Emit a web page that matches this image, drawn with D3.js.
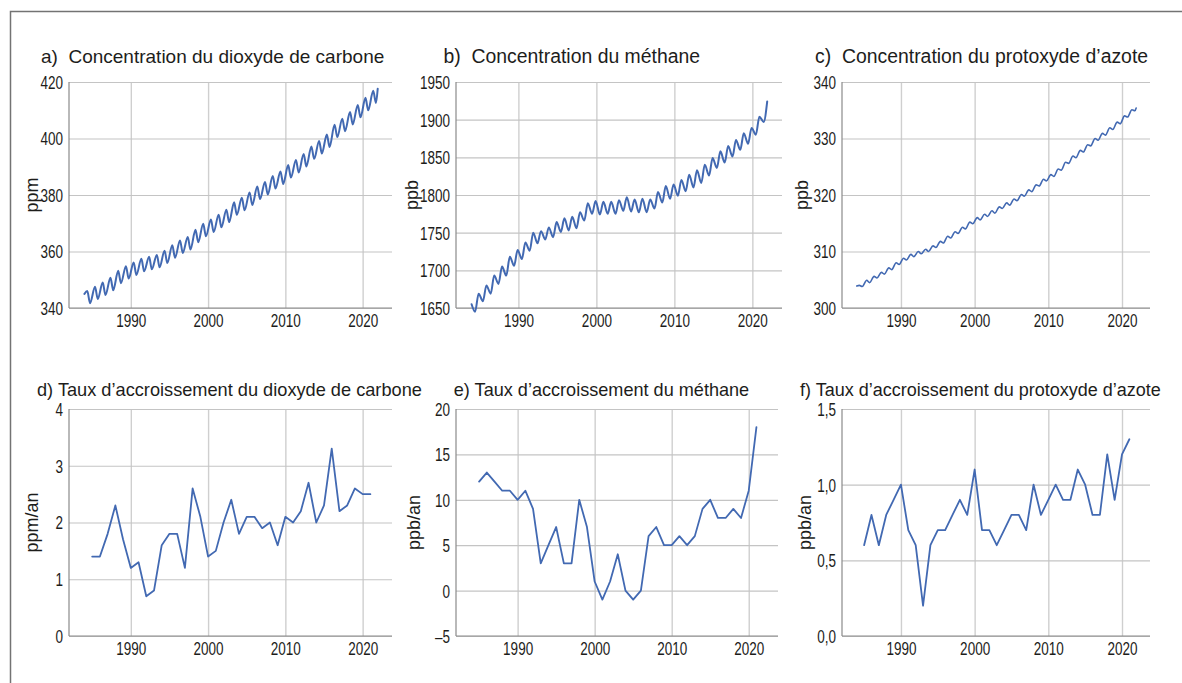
<!DOCTYPE html>
<html lang="fr">
<head>
<meta charset="utf-8">
<script src="https://cdn.jsdelivr.net/npm/d3@7"></script>
<style>
  html, body { margin: 0; padding: 0; background: #fff; }
  svg { display: block; }
  .title { font-family: "Liberation Sans", Arial, sans-serif; fill: #1d1d1b; white-space: pre; }
  .unit { font-family: "Liberation Sans", Arial, sans-serif; font-size: 18px; fill: #1d1d1b; }
  .tick-label { font-family: "Liberation Sans", Arial, sans-serif; font-size: 18.5px; fill: #1d1d1b; }
</style>
</head>
<body>
<svg id="chart" width="1182" height="683"></svg>
<script>
// ---- Data -----------------------------------------------------------------

// Years covered by the monthly concentration records (one entry per year)
const concYears = d3.range(1984, 2022);

// CO2 (ppm): seasonal maximum (around May) and minimum (around September)
const co2Max = [346.0, 347.5, 349.0, 350.7, 353.2, 354.8, 356.1, 357.4, 358.1, 358.8,
                360.3, 362.2, 363.9, 365.1, 367.7, 369.8, 371.3, 373.0, 374.8, 377.4,
                379.0, 380.9, 383.0, 384.6, 386.7, 388.3, 390.6, 392.4, 394.5, 397.2,
                399.1, 401.4, 404.9, 407.0, 409.4, 411.9, 414.4, 416.9];
const co2Min = [341.7, 343.2, 344.6, 346.3, 348.8, 350.4, 351.7, 353.0, 353.7, 354.4,
                355.9, 357.8, 359.5, 360.7, 363.3, 365.4, 366.9, 368.6, 370.4, 373.0,
                374.6, 376.5, 378.6, 380.2, 382.3, 383.9, 386.2, 388.0, 390.1, 392.8,
                394.7, 397.0, 400.5, 402.6, 405.0, 407.5, 410.0, 412.6];
const co2First = 345.0, co2Last = 417.6;           // January 1984, December 2021
const co2MaxMonth = 0.37, co2MinMonth = 0.72;      // fraction of the year

// CH4 (ppb): seasonal minimum (early summer) and maximum (late in the year)
const ch4Min = [1645, 1659, 1669, 1682, 1693, 1706, 1715, 1726, 1736, 1741,
                1744, 1751, 1753, 1756, 1766, 1775, 1774, 1775, 1775, 1779,
                1778, 1777, 1777, 1782, 1790, 1795, 1799, 1805, 1810, 1816,
                1826, 1836, 1843, 1851, 1860, 1868, 1880, 1897];
const ch4Max = [1669, 1680, 1693, 1705, 1718, 1727, 1737, 1750, 1752, 1757,
                1764, 1769, 1771, 1777, 1789, 1792, 1791, 1791, 1793, 1797,
                1794, 1795, 1794, 1804, 1812, 1814, 1820, 1827, 1833, 1840,
                1849, 1858, 1865, 1873, 1882, 1889, 1904, 1924];
const ch4First = 1655;
const ch4MinMonth = 0.45, ch4MaxMonth = 0.9;

// N2O (ppb): small seasonal high and low
const n2oHigh = [304.0, 304.9, 305.6, 306.3, 307.1, 308.0, 308.8, 309.5, 310.0, 310.4,
                 311.0, 311.8, 312.7, 313.5, 314.3, 315.2, 316.0, 316.6, 317.2, 317.9,
                 318.6, 319.3, 320.1, 320.9, 321.8, 322.8, 323.6, 324.6, 325.8, 326.9,
                 327.9, 328.9, 330.0, 330.9, 331.9, 332.9, 334.0, 335.1];
const n2oLow  = [303.8, 304.5, 305.3, 306.0, 306.8, 307.7, 308.5, 309.1, 309.6, 310.0,
                 310.7, 311.5, 312.4, 313.2, 314.0, 314.9, 315.6, 316.2, 316.8, 317.6,
                 318.2, 319.0, 319.8, 320.6, 321.6, 322.5, 323.3, 324.4, 325.6, 326.6,
                 327.6, 328.7, 329.7, 330.6, 331.6, 332.6, 333.8, 334.9];
const n2oFirst = 303.9, n2oLast = 335.4;
const n2oHighMonth = 0.35, n2oLowMonth = 0.75;

// Annual growth rates
const rateYears = d3.range(1985, 2022);
const co2Rate = [1.4, 1.4, 1.8, 2.3, 1.7, 1.2, 1.3, 0.7, 0.8, 1.6,
                 1.8, 1.8, 1.2, 2.6, 2.1, 1.4, 1.5, 2.0, 2.4, 1.8,
                 2.1, 2.1, 1.9, 2.0, 1.6, 2.1, 2.0, 2.2, 2.7, 2.0,
                 2.3, 3.3, 2.2, 2.3, 2.6, 2.5, 2.5];
const ch4Rate = [12, 13, 12, 11, 11, 10, 11, 9, 3, 5,
                 7, 3, 3, 10, 7, 1, -1, 1, 4, 0,
                 -1, 0, 6, 7, 5, 5, 6, 5, 6, 9,
                 10, 8, 8, 9, 8, 11, 18];
const n2oRate = [0.6, 0.8, 0.6, 0.8, 0.9, 1.0, 0.7, 0.6, 0.2, 0.6,
                 0.7, 0.7, 0.8, 0.9, 0.8, 1.1, 0.7, 0.7, 0.6, 0.7,
                 0.8, 0.8, 0.7, 1.0, 0.8, 0.9, 1.0, 0.9, 0.9, 1.1,
                 1.0, 0.8, 0.8, 1.2, 0.9, 1.2, 1.3];

// Axis ticks
const yearTicks = [1990, 2000, 2010, 2020];
const co2Ticks = [340, 360, 380, 400, 420];
const ch4Ticks = [1650, 1700, 1750, 1800, 1850, 1900, 1950];
const n2oTicks = [300, 310, 320, 330, 340];
const co2RateTicks = [0, 1, 2, 3, 4];
const ch4RateTicks = [-5, 0, 5, 10, 15, 20];
const n2oRateTicks = [0, 0.5, 1, 1.5];

// ---- Build series -----------------------------------------------------------

function seasonal(first, last, a, aPhase, b, bPhase, firstT, lastT) {
  const pts = [{ t: firstT, v: first }];
  concYears.forEach((y, i) => {
    pts.push({ t: y + aPhase, v: a[i] });
    pts.push({ t: y + bPhase, v: b[i] });
  });
  if (last != null) pts.push({ t: lastT, v: last });
  return pts;
}

const co2Series = seasonal(co2First, co2Last, co2Max, co2MaxMonth, co2Min, co2MinMonth, 1984.0, 2021.95);
const ch4Series = seasonal(ch4First, null, ch4Min, ch4MinMonth, ch4Max, ch4MaxMonth, 1984.0, null);
const n2oSeries = seasonal(n2oFirst, n2oLast, n2oHigh, n2oHighMonth, n2oLow, n2oLowMonth, 1984.0, 2021.92)
  .filter(p => p.t <= 2021.92);
const rateSeries = arr => rateYears.map((y, i) => ({ t: y, v: arr[i] }));

const comma = d3.format(".1f");
const dashMinus = v => (v < 0 ? "\u2013" + Math.abs(v) : String(v));

// ---- Layout -----------------------------------------------------------------

const panels = [
  { title: "a)  Concentration du dioxyde de carbone", tx: 41, ty: 63, tsize: 19,
    unit: "ppm", ux: 32, box: [69, 392, 82, 308], y: [340, 420], ticks: co2Ticks,
    fmt: String, data: co2Series, curve: d3.curveMonotoneX, width: 2 },
  { title: "b)  Concentration du méthane", tx: 443.5, ty: 63, tsize: 19.4,
    unit: "ppb", ux: 412, box: [456, 782, 82, 308], y: [1650, 1950], ticks: ch4Ticks,
    fmt: String, data: ch4Series, curve: d3.curveMonotoneX, width: 2 },
  { title: "c)  Concentration du protoxyde d\u2019azote", tx: 815, ty: 63, tsize: 19.4,
    unit: "ppb", ux: 802, box: [842, 1150, 82, 308], y: [300, 340], ticks: n2oTicks,
    fmt: String, data: n2oSeries, curve: d3.curveMonotoneX, width: 1.6 },
  { title: "d) Taux d\u2019accroissement du dioxyde de carbone", tx: 37, ty: 396, tsize: 18.2,
    unit: "ppm/an", ux: 32, box: [69, 392, 409, 636], y: [0, 4], ticks: co2RateTicks,
    fmt: String, data: rateSeries(co2Rate), curve: d3.curveLinear, width: 1.8 },
  { title: "e) Taux d\u2019accroissement du méthane", tx: 453.8, ty: 396, tsize: 18.1,
    unit: "ppb/an", ux: 413.5, box: [456, 778, 409, 636], y: [-5, 20], ticks: ch4RateTicks,
    fmt: dashMinus, data: rateSeries(ch4Rate), curve: d3.curveLinear, width: 1.8 },
  { title: "f) Taux d\u2019accroissement du protoxyde d\u2019azote", tx: 800, ty: 396, tsize: 18,
    unit: "ppb/an", ux: 805, box: [842, 1150, 409, 636], y: [0, 1.5], ticks: n2oRateTicks,
    fmt: v => comma(v).replace(".", ","), data: rateSeries(n2oRate), curve: d3.curveLinear, width: 1.8 }
];

const yearDomain = [1982, 2023.8];
const narrow = 0.73;          // horizontal squeeze for the condensed tick numerals
const yPad = 6;

// ---- Drawing ----------------------------------------------------------------

const svg = d3.select("#chart");

// Outer frame (top and left edges)
svg.append("path")
  .attr("d", "M10.5,683 V11.5 H1182")
  .attr("fill", "none")
  .attr("stroke", "#737373")
  .attr("stroke-width", 1.5);

panels.forEach(p => {
  const [x0, x1, y0, y1] = p.box;
  const x = d3.scaleLinear().domain(yearDomain).range([x0, x1]);
  const y = d3.scaleLinear().domain(p.y).range([y1, y0]);
  const g = svg.append("g");

  // Gridlines
  g.append("g")
    .attr("transform", `translate(0,${y1})`)
    .call(d3.axisBottom(x).tickValues(yearTicks).tickSize(-(y1 - y0)).tickFormat(""))
    .call(a => a.select(".domain").remove())
    .call(a => a.selectAll("line").attr("stroke", "#cfcfcf").attr("stroke-width", 1.4));
  g.append("g")
    .attr("transform", `translate(${x0},0)`)
    .call(d3.axisLeft(y).tickValues(p.ticks).tickSize(-(x1 - x0)).tickFormat(""))
    .call(a => a.select(".domain").remove())
    .call(a => a.selectAll("line").attr("stroke", "#c4c4c4").attr("stroke-width", 1.2));

  // Axis lines
  g.append("line").attr("x1", x0).attr("x2", x0).attr("y1", y0).attr("y2", y1)
    .attr("stroke", "#8a8a8a").attr("stroke-width", 1.2);
  g.append("line").attr("x1", x0).attr("x2", x1).attr("y1", y1).attr("y2", y1)
    .attr("stroke", "#8a8a8a").attr("stroke-width", 1.2);

  // Tick labels
  const xAxis = g.append("g")
    .attr("transform", `translate(0,${y1})`)
    .call(d3.axisBottom(x).tickValues(yearTicks).tickSize(0).tickPadding(0).tickFormat(d3.format("d")));
  xAxis.select(".domain").remove();
  xAxis.attr("font-family", null).attr("font-size", null);
  xAxis.selectAll("text").attr("class", "tick-label")
    .attr("dy", null).attr("y", 19).attr("x", 0)
    .attr("transform", `scale(${narrow},1)`);

  const yAxis = g.append("g")
    .attr("transform", `translate(${x0},0)`)
    .call(d3.axisLeft(y).tickValues(p.ticks).tickSize(0).tickPadding(yPad).tickFormat(p.fmt));
  yAxis.select(".domain").remove();
  yAxis.attr("font-family", null).attr("font-size", null);
  yAxis.selectAll("text").attr("class", "tick-label")
    .attr("dy", "0.35em")
    .attr("x", -yPad / narrow)
    .attr("transform", `scale(${narrow},1)`);

  // Data line
  const line = d3.line().x(d => x(d.t)).y(d => y(d.v)).curve(p.curve);
  g.append("path")
    .datum(p.data)
    .attr("d", line)
    .attr("fill", "none")
    .attr("stroke", "#4269b2")
    .attr("stroke-width", p.width)
    .attr("stroke-linejoin", "round")
    .attr("stroke-linecap", "round");

  // Title
  svg.append("text")
    .attr("class", "title")
    .attr("x", p.tx)
    .attr("y", p.ty)
    .attr("font-size", p.tsize)
    .text(p.title);

  // Unit label
  svg.append("text")
    .attr("class", "unit")
    .attr("transform", `translate(${p.ux},${(y0 + y1) / 2}) rotate(-90)`)
    .attr("text-anchor", "middle")
    .attr("dy", "0.35em")
    .text(p.unit);
});
</script>
</body>
</html>
